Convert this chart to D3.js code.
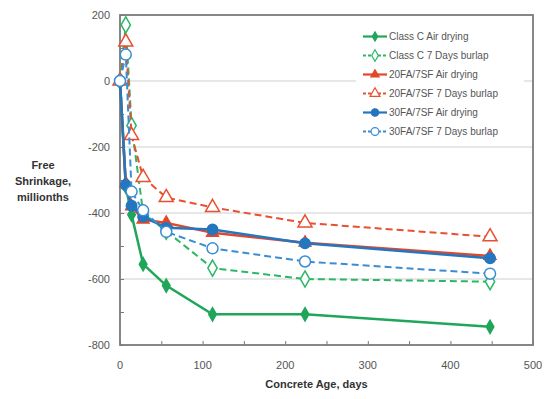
<!DOCTYPE html>
<html>
<head>
<meta charset="utf-8">
<script src="https://cdn.jsdelivr.net/npm/d3@7"></script>
<style>
  body { margin: 0; background: #fff; }
  text { font-family: "Liberation Sans", Arial, sans-serif; }
</style>
</head>
<body>
<svg id="chart" width="548" height="399"></svg>
<script>
// concrete age (days) at each reading
const days = [0, 7, 14, 28, 56, 112, 224, 448];

// free shrinkage, millionths
const classCAir = [0, -320, -405, -555, -620, -707, -707, -745];
const classCBurlap = [0, 170, -135, -400, -455, -567, -600, -608];
const fa20Air = [0, -310, -380, -420, -430, -460, -490, -530];
const fa20Burlap = [0, 118, -165, -292, -353, -383, -430, -472];
const fa30Air = [0, -315, -378, -411, -445, -450, -492, -537];
const fa30Burlap = [0, 80, -335, -392, -457, -507, -547, -584];

const seriesNames = ["Class C Air drying", "Class C 7 Days burlap", "20FA/7SF Air drying",
  "20FA/7SF 7 Days burlap", "30FA/7SF Air drying", "30FA/7SF 7 Days burlap"];

const xTicks = [0, 100, 200, 300, 400, 500];
const yTicks = [200, 0, -200, -400, -600, -800];

const series = [
  { name: seriesNames[0], vals: classCAir, color: "#1fa65a", dash: null, sym: d3.symbolDiamond, open: false, size: 50 },
  { name: seriesNames[1], vals: classCBurlap, color: "#2bb866", dash: "7,4", sym: d3.symbolDiamond, open: true, size: 75 },
  { name: seriesNames[2], vals: fa20Air, color: "#e2472a", dash: null, sym: d3.symbolTriangle, open: false, size: 60 },
  { name: seriesNames[3], vals: fa20Burlap, color: "#e8502f", dash: "7,4", sym: d3.symbolTriangle, open: true, size: 85 },
  { name: seriesNames[4], vals: fa30Air, color: "#2477bf", dash: null, sym: d3.symbolCircle, open: false, size: 85 },
  { name: seriesNames[5], vals: fa30Burlap, color: "#3a8dd4", dash: "7,4", sym: d3.symbolCircle, open: true, size: 95 }
];

const svg = d3.select("#chart");
const plotL = 120, plotR = 533, plotT = 15, plotB = 345;

const x = d3.scaleLinear().domain([0, 500]).range([plotL, plotR]);
const y = d3.scaleLinear().domain([-800, 200]).range([plotB, plotT]);

// grid lines
svg.append("g")
  .selectAll("line")
  .data(yTicks.filter(t => t > -800 && t < 200))
  .enter().append("line")
  .attr("x1", plotL).attr("x2", plotR)
  .attr("y1", d => y(d)).attr("y2", d => y(d))
  .attr("stroke", "#d0d0d0").attr("stroke-width", 1.2);

// axes with inward ticks
svg.append("g")
  .attr("transform", `translate(0,${plotB})`)
  .call(d3.axisBottom(x).tickValues(d3.range(0, 501, 50)).tickSize(-4).tickFormat(""))
  .call(g => g.select(".domain").remove())
  .call(g => g.selectAll("line").attr("stroke", "#777"));

svg.append("g")
  .attr("transform", `translate(${plotL},0)`)
  .call(d3.axisLeft(y).tickValues(d3.range(-800, 201, 100)).tickSize(-4).tickFormat(""))
  .call(g => g.select(".domain").remove())
  .call(g => g.selectAll("line").attr("stroke", "#777"));

// tick labels
svg.append("g").selectAll("text")
  .data(xTicks).enter().append("text")
  .attr("x", d => x(d)).attr("y", 369)
  .attr("text-anchor", "middle")
  .attr("font-size", 11).attr("fill", "#555")
  .text(d => d);

svg.append("g").selectAll("text")
  .data(yTicks).enter().append("text")
  .attr("x", 110).attr("y", d => y(d) + 4)
  .attr("text-anchor", "end")
  .attr("font-size", 11).attr("fill", "#555")
  .text(d => d);

// frame
svg.append("rect")
  .attr("x", plotL).attr("y", plotT)
  .attr("width", plotR - plotL).attr("height", plotB - plotT)
  .attr("fill", "none").attr("stroke", "#7a7a7a").attr("stroke-width", 1.8);

// axis titles
svg.append("text")
  .attr("x", (plotL + plotR) / 2 - 10).attr("y", 388)
  .attr("text-anchor", "middle")
  .attr("font-size", 11).attr("font-weight", "bold").attr("fill", "#333")
  .text("Concrete Age, days");

const yTitle = svg.append("text")
  .attr("text-anchor", "middle")
  .attr("font-size", 11).attr("font-weight", "bold").attr("fill", "#333");
["Free", "Shrinkage,", "millionths"].forEach((t, i) => {
  yTitle.append("tspan").attr("x", 43).attr("y", 169 + i * 16).text(t);
});

// lines and markers
const line = d3.line()
  .x((d, i) => x(days[i]))
  .y(d => y(d));

series.forEach(s => {
  svg.append("path")
    .datum(s.vals)
    .attr("fill", "none")
    .attr("stroke", s.color)
    .attr("stroke-width", s.dash ? 2 : 2.5)
    .attr("stroke-dasharray", s.dash)
    .attr("d", line);

  svg.append("g").selectAll("path")
    .data(s.vals).enter().append("path")
    .attr("transform", (d, i) => `translate(${x(days[i])},${y(d)})`)
    .attr("d", d3.symbol().type(s.sym).size(s.size))
    .attr("fill", s.open ? "#fff" : s.color)
    .attr("stroke", s.color)
    .attr("stroke-width", 1.5);
});

// legend
const lg = svg.append("g");
lg.append("rect")
  .attr("x", 356).attr("y", 26).attr("width", 168).attr("height", 116)
  .attr("fill", "#fff");

series.forEach((s, i) => {
  const ly = 36.5 + i * 19;
  lg.append("line")
    .attr("x1", 363).attr("x2", 387)
    .attr("y1", ly).attr("y2", ly)
    .attr("stroke", s.color).attr("stroke-width", s.dash ? 1.8 : 2.2)
    .attr("stroke-dasharray", s.dash ? "3,2" : null);
  lg.append("path")
    .attr("transform", `translate(375,${ly})`)
    .attr("d", d3.symbol().type(s.sym).size(s.size * 0.5))
    .attr("fill", s.open ? "#fff" : s.color)
    .attr("stroke", s.color).attr("stroke-width", 1.2);
  lg.append("text")
    .attr("x", 389).attr("y", ly + 3.5)
    .attr("font-size", 10).attr("fill", "#555")
    .text(s.name);
});
</script>
</body>
</html>
